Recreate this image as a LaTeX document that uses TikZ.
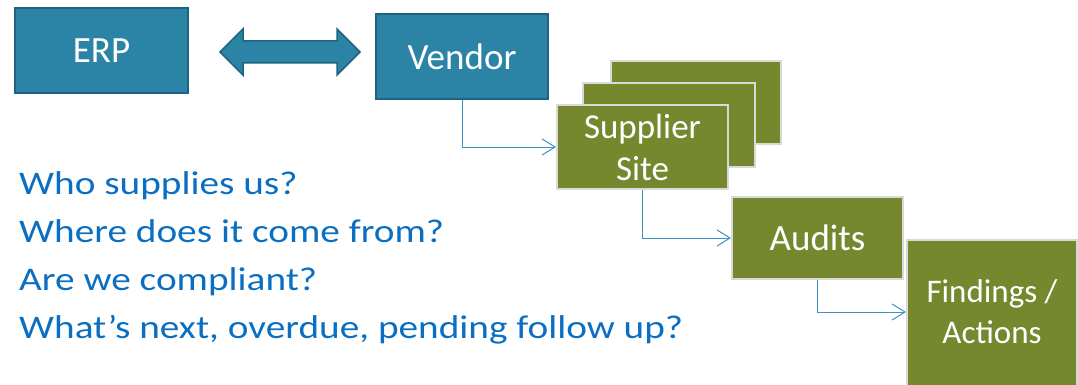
\documentclass[tikz,border=0pt]{standalone}
\usepackage{fontspec}
\setmainfont{Carlito}
\newfontfamily\qfont[FakeStretch=1.19]{Carlito}
\usetikzlibrary{arrows.meta}
\definecolor{boxblue}{HTML}{2B83A5}
\definecolor{boxblueline}{HTML}{1F6381}
\definecolor{olive}{HTML}{76882D}
\definecolor{oliveline}{HTML}{D9D9D9}
\definecolor{connblue}{HTML}{3C93BF}
\definecolor{qblue}{HTML}{0A6FC2}
\tikzset{
  bluebox/.style={draw=boxblueline, line width=1.5pt, fill=boxblue, text=white, inner sep=0pt,
    font=\fontsize{37}{44}\selectfont},
  olivebox/.style={draw=oliveline, line width=2pt, fill=olive, text=white, inner sep=0pt, align=center},
  conn/.style={draw=connblue, line width=1pt, -{Straight Barb[length=13pt,width=16pt,line width=1pt]}},
  question/.style={anchor=base west, inner sep=0pt, text=qblue, font=\qfont\fontsize{33}{40}\selectfont},
}
\begin{document}
\begin{tikzpicture}[x=1pt,y=-1pt]
\useasboundingbox (0,0) rectangle (1078,385);
\begin{scope}
\clip (0,0) rectangle (1078,385);
% top row
\node[bluebox, minimum width=173pt, minimum height=85pt] (erp) at (101.5,50.5) {ERP};
\node[bluebox, minimum width=172pt, minimum height=85pt] (vendor) at (462,56.5) {Vendor};
\draw[draw=boxblueline, line width=1.5pt, fill=boxblue]
  (220,52) -- (243,29) -- (243,41) -- (337,41) -- (337,29) -- (360,52)
  -- (337,75) -- (337,63) -- (243,63) -- (243,75) -- cycle;
% supplier stack
\node[olivebox, minimum width=170pt, minimum height=83pt] (back1) at (696,102.5) {};
\node[olivebox, minimum width=172pt, minimum height=84pt] (back2) at (669,125) {};
\node[olivebox, minimum width=171pt, minimum height=84pt, font=\fontsize{35}{42}\selectfont] (sup) at (642.5,147) {Supplier\\Site};
% audits
\node[olivebox, minimum width=171pt, minimum height=82pt, font=\fontsize{37}{44}\selectfont] (aud) at (817.5,238) {Audits};
% findings
\node[olivebox, minimum width=170pt, minimum height=170pt, anchor=north] (fa) at (992,239) {};
\node[inner sep=0pt, text=white, align=center, font=\fontsize{33}{41}\selectfont] (fatxt) at (992,312) {Findings /\\Actions};
\end{scope}
% connectors
\draw[conn] (vendor.south) |- (sup.west);
\draw[conn] (sup.south) |- (aud.west);
\draw[conn] (aud.south) |- (fatxt.west -| fa.west);
% questions
\node[question] (q1) at (19,194) {Who supplies us?};
\node[question] (q2) at (19,242) {Where does it come from?};
\node[question] (q3) at (19,290) {Are we compliant?};
\node[question] (q4) at (19,338) {What’s next, overdue, pending follow up?};
\end{tikzpicture}
\end{document}
